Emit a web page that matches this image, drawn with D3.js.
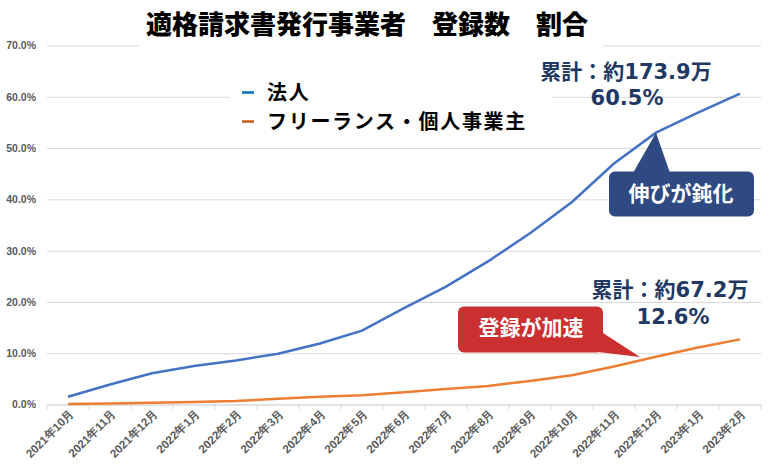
<!DOCTYPE html>
<html><head><meta charset="utf-8">
<script src="https://cdn.jsdelivr.net/npm/d3@7"></script>
<style>
body{margin:0;background:#fff;}
svg{display:block;font-family:"DejaVu Sans","Noto Sans CJK JP",sans-serif;}
</style></head>
<body><svg id="c" width="771" height="471"></svg>
<script>
const categories = ["2021年10月","2021年11月","2021年12月","2022年1月","2022年2月","2022年3月","2022年4月","2022年5月","2022年6月","2022年7月","2022年8月","2022年9月","2022年10月","2022年11月","2022年12月","2023年1月","2023年2月"];
const corporate = [1.5,3.9,6.1,7.5,8.6,9.9,11.9,14.4,18.8,23.0,27.9,33.4,39.5,47.0,53.0,56.9,60.6];
const freelance = [0.1,0.2,0.35,0.5,0.7,1.1,1.5,1.8,2.4,3.0,3.6,4.6,5.7,7.4,9.3,11.1,12.7];
const yTicks = [0,10,20,30,40,50,60,70];
const seriesNames = ["法人","フリーランス・個人事業主"];

const svg = d3.select("#c");
const L=47, R=761, T=45.5, B=404.5;
const x = d3.scaleBand().domain(categories).range([L,R]);
const y = d3.scaleLinear().domain([0,70]).range([B,T]);
const bw = x.bandwidth();

// gridlines + y labels
const ya = svg.append("g").attr("transform",`translate(${L},0)`)
  .call(d3.axisLeft(y).tickValues(yTicks).tickSize(-(R-L)).tickPadding(11).tickFormat(d=>d.toFixed(1)+"%"));
ya.select(".domain").remove();
ya.selectAll(".tick line").attr("stroke","#d9d9d9").attr("stroke-width",1);
ya.selectAll(".tick text").attr("fill","#595959").attr("font-size","10.5px").attr("font-weight","bold");

// x axis
const xa = svg.append("g").attr("transform",`translate(0,${B})`)
  .call(d3.axisBottom(x).tickSize(0).tickPadding(0));
xa.select(".domain").attr("stroke","#d9d9d9");
xa.selectAll(".tick text").attr("fill","#595959").attr("font-size","11.5px").attr("font-weight","bold")
  .attr("text-anchor","end").attr("transform","translate(4,7) rotate(-45)").attr("dy","0.35em");
const bounds = categories.map(c=>x(c)).concat([R]);
svg.append("g").selectAll("line").data(bounds).join("line")
  .attr("x1",d=>d).attr("x2",d=>d).attr("y1",B).attr("y2",B+5).attr("stroke","#d9d9d9");

// title
svg.append("rect").attr("x",140).attr("y",30).attr("width",463).attr("height",20).attr("fill","#fff");
svg.append("text").attr("x",367).attr("y",22).attr("text-anchor","middle").attr("dominant-baseline","central")
  .attr("font-size","26px").attr("font-weight","900").attr("fill","#000")
  .attr("font-family","'Noto Sans CJK JP',sans-serif")
  .text("適格請求書発行事業者\u3000登録数\u3000割合");

// legend
svg.append("rect").attr("x",230).attr("y",76).attr("width",322).attr("height",60).attr("fill","#fff");
const legColors=["#0070C0","#C55A11"];
seriesNames.forEach((n,i)=>{
  const yy = 91.5 + i*29;
  svg.append("line").attr("x1",242).attr("x2",254).attr("y1",yy+1).attr("y2",yy+1).attr("stroke",legColors[i]).attr("stroke-width",2.5);
  svg.append("text").attr("x",267).attr("y",yy).attr("dominant-baseline","central")
    .attr("font-size","20px").attr("font-weight","bold").attr("fill","#000").attr("letter-spacing","1.7px")
    .attr("font-family","'Noto Sans CJK JP',sans-serif").text(n);
});

// lines
const line = d3.line().x((d,i)=>x(categories[i])+bw/2).y(d=>y(d));
svg.append("path").datum(corporate).attr("d",line).attr("fill","none").attr("stroke","#4472C4").attr("stroke-width",2.5);
svg.append("path").datum(freelance).attr("d",line).attr("fill","none").attr("stroke","#ED7D31").attr("stroke-width",2.5);

// annotations
function txt(t,xx,yy,col,fs){
  svg.append("text").attr("x",xx).attr("y",yy).attr("text-anchor","middle").attr("dominant-baseline","central")
    .attr("font-size",fs).attr("font-weight","bold").attr("fill",col).text(t);
}
const navy="#1F3864";
txt("累計：約173.9万",626,72,navy,"21px");
txt("60.5%",627,98,navy,"21px");
txt("累計：約67.2万",670,290,navy,"21px");
txt("12.6%",673,317,navy,"21px");

// blue callout
const tipB=[x("2022年12月")+bw/2, y(corporate[14])];
svg.append("path").attr("d",`M633,173 L${tipB[0]},${tipB[1]} L670,173 Z`).attr("fill","#2F4A82");
svg.append("rect").attr("x",609).attr("y",171.5).attr("width",145).attr("height",45).attr("rx",6).attr("fill","#2F4A82");
txt("伸びが鈍化",681,194,"#fff","21px");

// red callout
svg.append("path").attr("d",`M600,331 L640,357 L598,352 Z`).attr("fill","#C9302F");
svg.append("rect").attr("x",458).attr("y",306.5).attr("width",145).attr("height",46).attr("rx",6).attr("fill","#C9302F");
txt("登録が加速",531,328,"#fff","21px");
</script></body></html>
